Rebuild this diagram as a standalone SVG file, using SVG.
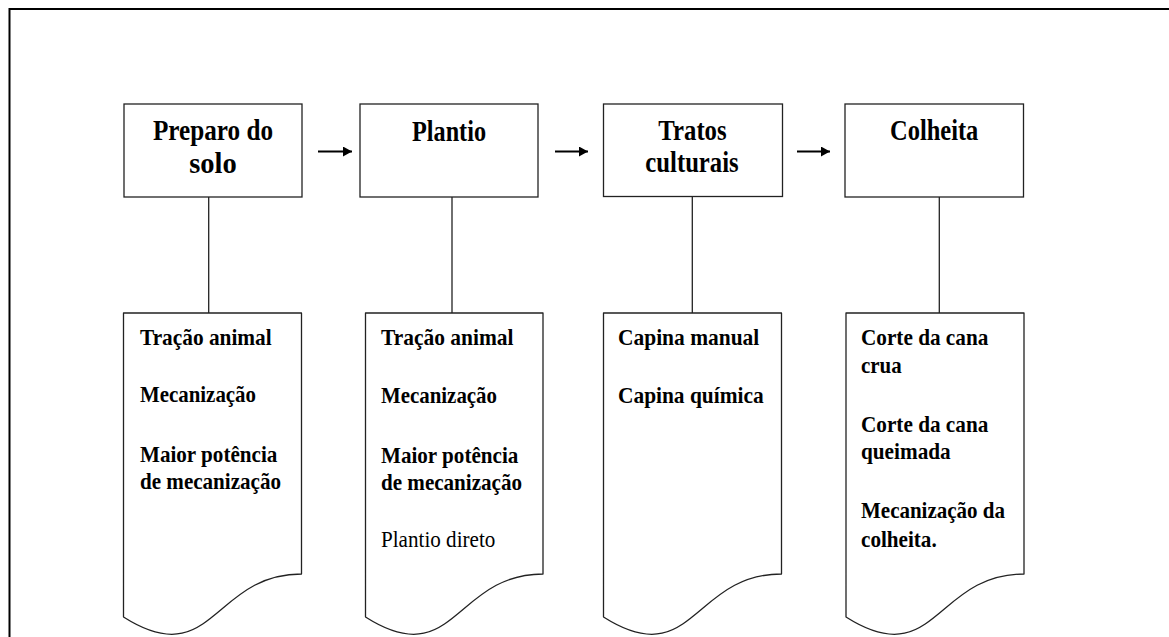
<svg xmlns="http://www.w3.org/2000/svg" width="1169" height="637" viewBox="0 0 1169 637">
  <style>
    .frame { fill: none; stroke: #000; stroke-width: 2; }
    .box { fill: #fff; stroke: #222; stroke-width: 1.3; }
    .doc { fill: #fff; stroke: #222; stroke-width: 1.3; stroke-linejoin: round; }
    .conn { stroke: #222; stroke-width: 1.3; fill: none; }
    .arrow { stroke: #000; stroke-width: 2; fill: none; }
    .title { font-family: "Liberation Serif", "Times New Roman", serif; font-weight: bold; font-size: 28.5px; fill: #000; text-anchor: middle; }
    .item { font-family: "Liberation Serif", "Times New Roman", serif; font-weight: bold; font-size: 24px; fill: #000; }
    .plain { font-family: "Liberation Serif", "Times New Roman", serif; font-size: 24px; fill: #000; }
  </style>
  <defs>
    <marker id="ah" markerWidth="10" markerHeight="10" refX="9" refY="5" orient="auto" markerUnits="userSpaceOnUse">
      <path d="M0,0 L9,5 L0,10 Z" fill="#000"/>
    </marker>
  </defs>
  <rect x="0" y="0" width="1169" height="637" fill="#fff"/>
  <rect class="frame" x="9.5" y="9" width="1200" height="700"/>

  <g id="connectors">
    <line class="conn" x1="208.7" y1="197" x2="208.7" y2="313"/>
    <line class="conn" x1="452" y1="197" x2="452" y2="313"/>
    <line class="conn" x1="692.3" y1="197" x2="692.3" y2="313"/>
    <line class="conn" x1="939.3" y1="197" x2="939.3" y2="313"/>
    <line class="arrow" x1="318" y1="151.5" x2="352" y2="151.5" marker-end="url(#ah)"/>
    <line class="arrow" x1="555" y1="151.5" x2="588" y2="151.5" marker-end="url(#ah)"/>
    <line class="arrow" x1="797" y1="151.5" x2="830" y2="151.5" marker-end="url(#ah)"/>
  </g>

  <g id="box-preparo">
    <rect class="box" x="124" y="104" width="178" height="93"/>
    <text class="title" x="213" y="140" textLength="120" lengthAdjust="spacingAndGlyphs">Preparo do</text>
    <text class="title" x="213" y="172.5">solo</text>
  </g>
  <g id="box-plantio">
    <rect class="box" x="360" y="104" width="178" height="93"/>
    <text class="title" x="449" y="140.5" textLength="74" lengthAdjust="spacingAndGlyphs">Plantio</text>
  </g>
  <g id="box-tratos">
    <rect class="box" x="603.5" y="104" width="179" height="92.5"/>
    <text class="title" x="692.5" y="140" textLength="68.3" lengthAdjust="spacingAndGlyphs">Tratos</text>
    <text class="title" x="692" y="172" textLength="93.3" lengthAdjust="spacingAndGlyphs">culturais</text>
  </g>
  <g id="box-colheita">
    <rect class="box" x="845" y="104" width="178.5" height="93"/>
    <text class="title" x="934.2" y="140" textLength="88.3" lengthAdjust="spacingAndGlyphs">Colheita</text>
  </g>

  <g id="doc-preparo">
    <path class="doc" d="M123.5,313 H301.5 V574 C212.5,574 212.5,673.5 123.5,617 Z"/>
    <text class="item" x="140" y="345" textLength="131.7" lengthAdjust="spacingAndGlyphs">Tração animal</text>
    <text class="item" x="140" y="402" textLength="116" lengthAdjust="spacingAndGlyphs">Mecanização</text>
    <text class="item" x="140" y="462" textLength="137.3" lengthAdjust="spacingAndGlyphs">Maior potência</text>
    <text class="item" x="140" y="489" textLength="141" lengthAdjust="spacingAndGlyphs">de mecanização</text>
  </g>
  <g id="doc-plantio">
    <path class="doc" d="M365.5,313 H543 V574 C454.25,574 454.25,673.5 365.5,617 Z"/>
    <text class="item" x="381" y="345" textLength="132.5" lengthAdjust="spacingAndGlyphs">Tração animal</text>
    <text class="item" x="381" y="402.5" textLength="116" lengthAdjust="spacingAndGlyphs">Mecanização</text>
    <text class="item" x="381" y="462.5" textLength="137.3" lengthAdjust="spacingAndGlyphs">Maior potência</text>
    <text class="item" x="381" y="489.5" textLength="141" lengthAdjust="spacingAndGlyphs">de mecanização</text>
    <text class="plain" x="381" y="547" textLength="114.3" lengthAdjust="spacingAndGlyphs">Plantio direto</text>
  </g>
  <g id="doc-tratos">
    <path class="doc" d="M603.5,313 H781.5 V574 C692.5,574 692.5,673.5 603.5,617 Z"/>
    <text class="item" x="618" y="345" textLength="141.3" lengthAdjust="spacingAndGlyphs">Capina manual</text>
    <text class="item" x="618" y="402.5" textLength="145.6" lengthAdjust="spacingAndGlyphs">Capina química</text>
  </g>
  <g id="doc-colheita">
    <path class="doc" d="M846,313 H1024 V574 C935,574 935,673.5 846,617 Z"/>
    <text class="item" x="861" y="345" textLength="127.3" lengthAdjust="spacingAndGlyphs">Corte da cana</text>
    <text class="item" x="861" y="372.7" textLength="40.7" lengthAdjust="spacingAndGlyphs">crua</text>
    <text class="item" x="861" y="431.7" textLength="127.3" lengthAdjust="spacingAndGlyphs">Corte da cana</text>
    <text class="item" x="861" y="459.3" textLength="89.7" lengthAdjust="spacingAndGlyphs">queimada</text>
    <text class="item" x="861" y="518.3" textLength="144" lengthAdjust="spacingAndGlyphs">Mecanização da</text>
    <text class="item" x="861" y="546.7" textLength="75.7" lengthAdjust="spacingAndGlyphs">colheita.</text>
  </g>
</svg>
